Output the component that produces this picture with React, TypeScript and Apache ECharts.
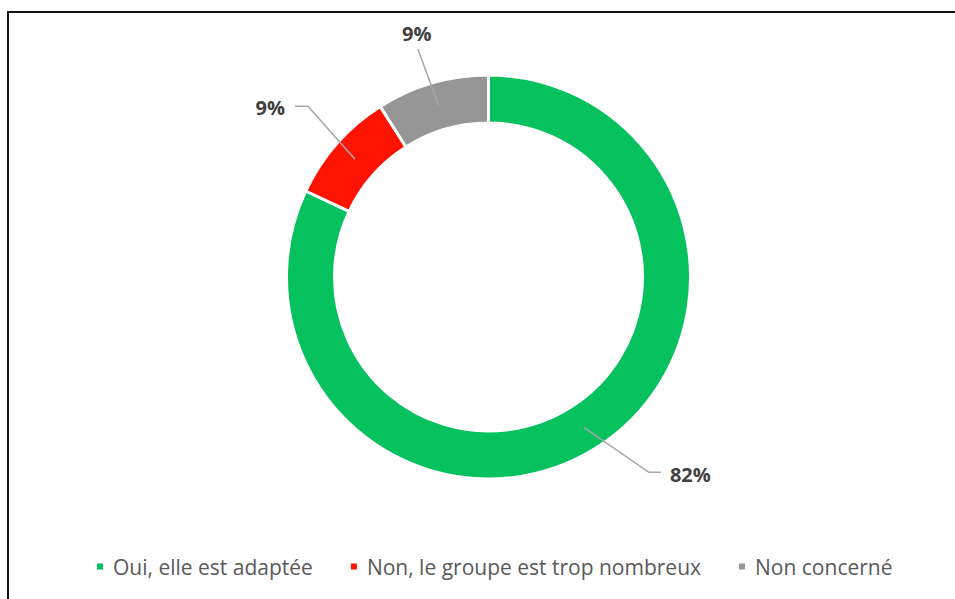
import React, { useEffect, useRef } from "react";
import * as echarts from "echarts";

const categories = ["Oui, elle est adaptée", "Non, le groupe est trop nombreux", "Non concerné"];
const values = [82, 9, 9];
const colors = ["#05C15E", "#FF1200", "#959695"];

// leader-line bends relative to the mid-ring anchor of each slice
const lineOffsets: number[][][] = [
  [[65, 45], [77, 45]],
  [[-47, -53], [-60, -53]],
  [[-21, -57], [-21, -57]],
];
const labelOffsets: { dx: number; dy: number; align: string; va: string }[] = [
  { dx: 86, dy: 47, align: "left", va: "middle" },
  { dx: -70, dy: -52, align: "right", va: "middle" },
  { dx: -22, dy: -63, align: "center", va: "bottom" },
];

export default function App() {
  const ref = useRef<HTMLDivElement>(null);
  useEffect(() => {
    if (!ref.current) return;
    const chart = echarts.init(ref.current, null, { renderer: "svg" });
    const data = categories.map((name, i) => ({ name, value: values[i], itemStyle: { color: colors[i] } }));
    const cx = 488.5;
    const cy = 277;
    const midR = 178;
    const total = values.reduce((s, v) => s + v, 0);
    const anchorOf = (i: number) => {
      let before = 0;
      for (let k = 0; k < i; k++) before += values[k];
      const mid = ((before + values[i] / 2) / total) * Math.PI * 2;
      return [cx + midR * Math.sin(mid), cy - midR * Math.cos(mid)];
    };
    chart.setOption({
      animation: false,
      backgroundColor: "#ffffff",
      graphic: [
        {
          type: "rect",
          shape: { x: 8, y: 12, width: 1000, height: 1000 },
          style: { fill: "none", stroke: "#111111", lineWidth: 2 },
          silent: true,
        },
      ],
      legend: {
        data: categories,
        left: 95,
        top: 556,
        padding: 0,
        icon: "rect",
        itemWidth: 8,
        itemHeight: 8,
        itemGap: 36,
        selectedMode: false,
        textStyle: { fontFamily: "Open Sans", fontSize: 21, color: "#595959", padding: [0, 0, 0, 4] },
      },
      series: [
        {
          type: "pie",
          z: 1,
          center: [cx, cy],
          radius: [154, 202],
          startAngle: 90,
          clockwise: true,
          silent: true,
          label: { show: false },
          labelLine: { show: false },
          itemStyle: { borderColor: "#ffffff", borderWidth: 3 },
          data,
        },
        {
          type: "pie",
          z: 5,
          center: [cx, cy],
          radius: [0, midR],
          startAngle: 90,
          clockwise: true,
          silent: true,
          itemStyle: { color: "rgba(0,0,0,0)" },
          label: {
            show: true,
            position: "outside",
            formatter: "{c}%",
            fontFamily: "Open Sans",
            fontWeight: "bold",
            fontSize: 20,
            color: "#404040",
          },
          labelLine: { show: true, length: 20, length2: 10, lineStyle: { color: "#a6a6a6", width: 1.5 } },
          labelLayout: (params: any) => {
            const i = params.dataIndex;
            const a = anchorOf(i);
            const pts = [[a[0], a[1]], ...lineOffsets[i].map((o) => [a[0] + o[0], a[1] + o[1]])];
            const lo = labelOffsets[i];
            return {
              x: a[0] + lo.dx,
              y: a[1] + lo.dy,
              align: lo.align,
              verticalAlign: lo.va,
              labelLinePoints: pts,
            };
          },
          data: categories.map((name, i) => ({ name, value: values[i] })),
        },
      ],
    });
    return () => chart.dispose();
  }, []);
  return <div ref={ref} style={{ position: "fixed", left: 0, top: 0, width: 955, height: 599 }} />;
}
